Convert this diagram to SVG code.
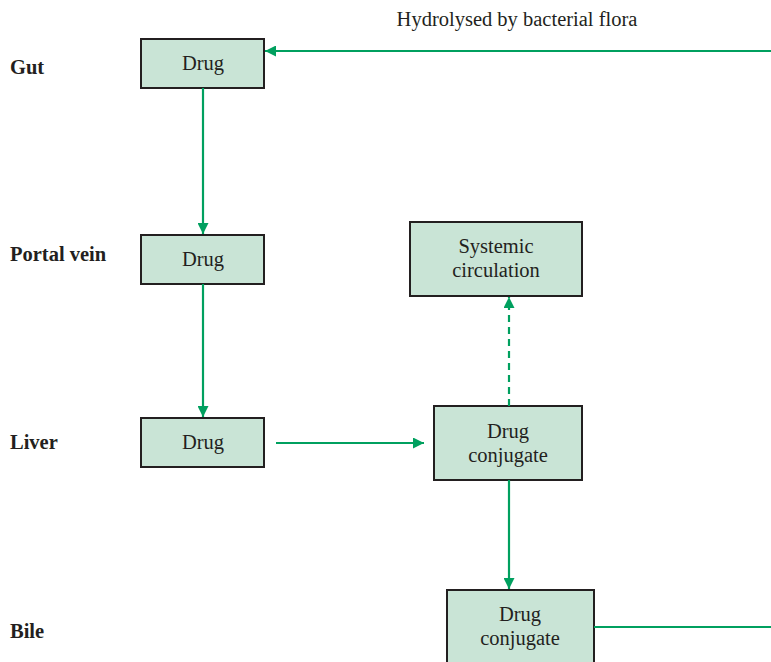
<svg xmlns="http://www.w3.org/2000/svg" width="771" height="662" viewBox="0 0 771 662">
<style>
.box{fill:#c9e4d6;stroke:#231f20;stroke-width:2}
.t{font-family:'Liberation Serif','Times New Roman','DejaVu Serif',serif;font-size:20.5px;fill:#231f20;text-anchor:middle}
.lbl{font-family:'Liberation Serif','Times New Roman','DejaVu Serif',serif;font-size:20.5px;font-weight:bold;fill:#231f20}
.c{stroke:#00a05f;stroke-width:2.2;fill:none}
</style>
<defs>
<marker id="ah" viewBox="0 0 10 10" refX="10" refY="5" markerWidth="5" markerHeight="5" orient="auto" markerUnits="strokeWidth">
<path d="M0,0 L10,5 L0,10 Z" fill="#00a05f"/>
</marker>
</defs>
<rect width="771" height="662" fill="#fff"/>
<text class="t" x="517" y="26">Hydrolysed by bacterial flora</text>
<text class="lbl" x="10" y="74">Gut</text>
<text class="lbl" x="10" y="261">Portal vein</text>
<text class="lbl" x="10" y="449">Liver</text>
<text class="lbl" x="10" y="638">Bile</text>
<g id="gut-drug"><rect class="box" x="141" y="39" width="123" height="49"/><text class="t" x="203" y="70">Drug</text></g>
<g id="portal-drug"><rect class="box" x="141" y="235" width="123" height="49"/><text class="t" x="203" y="266">Drug</text></g>
<g id="liver-drug"><rect class="box" x="141" y="418" width="123" height="49"/><text class="t" x="203" y="449">Drug</text></g>
<g id="systemic"><rect class="box" x="410" y="222" width="172" height="74"/><text class="t" x="496" y="253">Systemic</text><text class="t" x="496" y="277">circulation</text></g>
<g id="liver-conj"><rect class="box" x="434" y="406" width="148" height="74"/><text class="t" x="508" y="438">Drug</text><text class="t" x="508" y="462">conjugate</text></g>
<g id="bile-conj"><rect class="box" x="447" y="590" width="147" height="80"/><text class="t" x="520" y="621">Drug</text><text class="t" x="520" y="645">conjugate</text></g>
<g id="connectors">
<line class="c" x1="771" y1="51" x2="265" y2="51" marker-end="url(#ah)"/>
<line class="c" x1="203" y1="88" x2="203" y2="234" marker-end="url(#ah)"/>
<line class="c" x1="203" y1="284" x2="203" y2="417" marker-end="url(#ah)"/>
<line class="c" x1="276" y1="443" x2="424" y2="443" marker-end="url(#ah)"/>
<line class="c" x1="509" y1="406" x2="509" y2="297" stroke-dasharray="7,5" marker-end="url(#ah)"/>
<line class="c" x1="509" y1="480" x2="509" y2="589" marker-end="url(#ah)"/>
<line class="c" x1="594" y1="627" x2="771" y2="627"/>
</g>
</svg>
